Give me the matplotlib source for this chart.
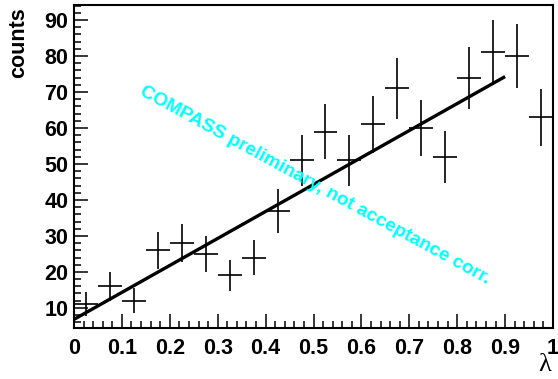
import numpy as np
from matplotlib import pyplot as plt
from matplotlib.ticker import MultipleLocator

# bin centres of the lambda histogram (bin width 0.05) and the counts in each bin
lam = [0.025, 0.075, 0.125, 0.175, 0.225, 0.275, 0.325, 0.375, 0.425, 0.475,
       0.525, 0.575, 0.625, 0.675, 0.725, 0.775, 0.825, 0.875, 0.925, 0.975]
counts = [11, 16, 12, 26, 28, 25, 19, 24, 37, 51,
          59, 51, 61, 71, 60, 52, 74, 81, 80, 63]
bin_width = 0.05

# straight-line fit drawn over 0 < lambda < 0.9
fit_range = [0.0, 0.9]
fit_intercept = 6.8
fit_slope = 75.0

xtick_labels = ['0', '0.1', '0.2', '0.3', '0.4', '0.5', '0.6', '0.7', '0.8', '0.9', '1']

plt.rcParams['font.family'] = ['Liberation Sans', 'DejaVu Sans']

fig = plt.figure(figsize=(5.58, 3.79), dpi=100)
ax = fig.add_axes([74 / 558, 1 - 328 / 379, 479 / 558, 323 / 379])

errores = np.sqrt(counts)
ax.errorbar(lam, counts, xerr=bin_width / 2, yerr=errores, fmt='none',
            ecolor='black', elinewidth=1.2, capsize=0)

fx = np.array(fit_range)
ax.plot(fx, fit_intercept + fit_slope * fx, color='black', lw=2.4,
        solid_capstyle='butt')

ax.text(0.136, 69.3, 'COMPASS preliminary, not acceptance corr.',
        color='#00ffff', fontsize=13.7, fontweight='bold', rotation=-28.6,
        rotation_mode='anchor', ha='left', va='baseline')

ax.set_xlim(0, 1)
ax.set_ylim(4.4, 94.2)

ax.xaxis.set_major_locator(MultipleLocator(0.1))
ax.xaxis.set_minor_locator(MultipleLocator(0.02))
ax.yaxis.set_major_locator(MultipleLocator(10))
ax.yaxis.set_minor_locator(MultipleLocator(2))
ax.set_xticks(np.linspace(0, 1, len(xtick_labels)))
ax.set_xticklabels(xtick_labels)

ax.tick_params(which='both', direction='in', top=False, right=False,
               width=1.1, labelsize=15.5)
ax.tick_params(which='major', length=10)
ax.tick_params(which='minor', length=5)
ax.tick_params(axis='x', pad=7)
ax.tick_params(axis='y', pad=4)
for lab in ax.get_xticklabels() + ax.get_yticklabels():
    lab.set_fontweight('bold')

for s in ax.spines.values():
    s.set_linewidth(1.5)

ax.set_ylabel('counts', fontsize=15.5, fontweight='bold', loc='top')
ax.yaxis.set_label_coords(-0.094, 0.994)
ax.set_xlabel('λ', fontsize=19, family=['Liberation Serif', 'DejaVu Serif'],
              loc='right')
ax.xaxis.set_label_coords(0.997, -0.08)
ax.xaxis.label.set_va('top')

fig.savefig('out.png', dpi=100)
